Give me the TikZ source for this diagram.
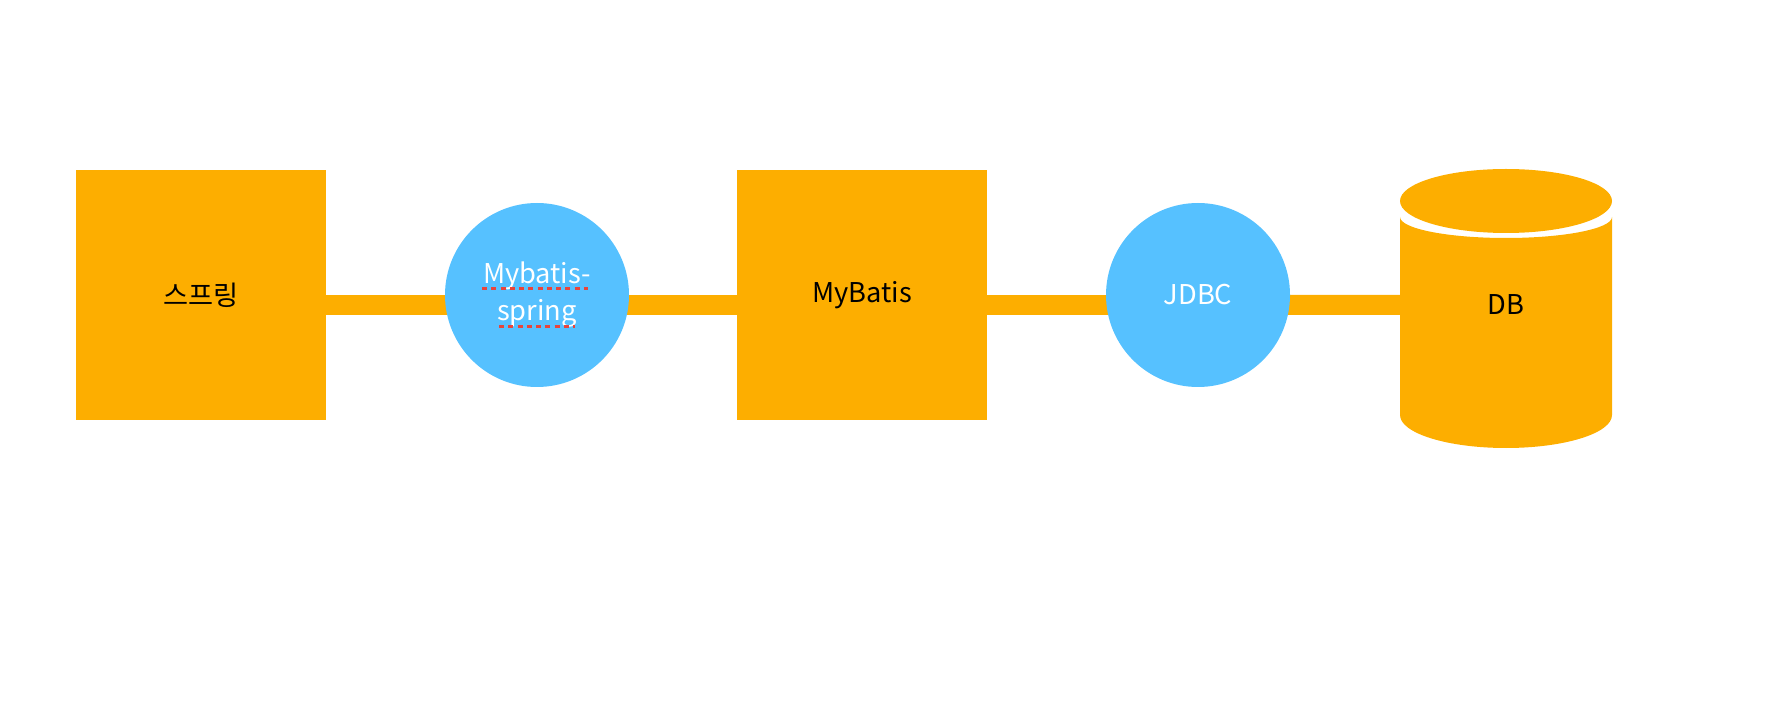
\documentclass[tikz,border=0pt]{standalone}
\usepackage{fontspec}
\setmainfont{Noto Sans CJK KR}
\usetikzlibrary{backgrounds}
\definecolor{fworange}{HTML}{FDAE00}
\definecolor{fwblue}{HTML}{56C1FF}
\definecolor{spellred}{HTML}{E8453C}

\begin{document}
\begin{tikzpicture}[
  font=\fontsize{15.5}{21}\selectfont,
  layer/.style={fill=fworange, minimum size=5cm, inner sep=0pt},
  bridge/.style={circle, fill=fwblue, text=white, minimum size=3.68cm, inner sep=0pt, align=center},
  store/.style={minimum width=4.24cm, minimum height=0.4cm, inner sep=0pt},
  bar/.style={fworange, line width=4mm},
  spell/.style={spellred, line width=0.6mm, dash pattern=on 1mm off 0.85mm}
]
\useasboundingbox (0,0) rectangle (35.6,14.4);

\node[layer]  (spring)  at (4.02,8.5)  {스프링};
\node[bridge] (mbs)     at (10.74,8.5) {Mybatis-\\spring};
\node[layer]  (mybatis) at (17.24,8.5) {MyBatis};
\node[bridge] (jdbc)    at (23.96,8.5) {JDBC};
\node[store]  (db)      at (30.12,8.3) {DB};

\draw[spell] ([shift={(-1.10,0.12)}]mbs.center) -- ([shift={(1.02,0.12)}]mbs.center);
\draw[spell] ([shift={(-0.76,-0.64)}]mbs.center) -- ([shift={(0.76,-0.64)}]mbs.center);

\begin{scope}[on background layer]
  \draw[bar] ([yshift=-2mm]spring.center) -- ([yshift=-2mm]mbs.center);
  \draw[bar] ([yshift=-2mm]mbs.center) -- ([yshift=-2mm]mybatis.center);
  \draw[bar] ([yshift=-2mm]mybatis.center) -- ([yshift=-2mm]jdbc.center);
  \draw[bar] ([yshift=-2mm]jdbc.center) -- (db.center);
  \begin{scope}[shift={(db.center)}]
    \fill[fworange] (-2.12,1.76) -- (-2.12,-2.20)
      arc[start angle=180, end angle=360, x radius=2.12, y radius=0.66]
      -- (2.12,1.76)
      arc[start angle=0, end angle=-180, x radius=2.12, y radius=0.42] -- cycle;
    \fill[fworange] (0,2.08) ellipse[x radius=2.12, y radius=0.64];
  \end{scope}
\end{scope}

\end{tikzpicture}
\end{document}
